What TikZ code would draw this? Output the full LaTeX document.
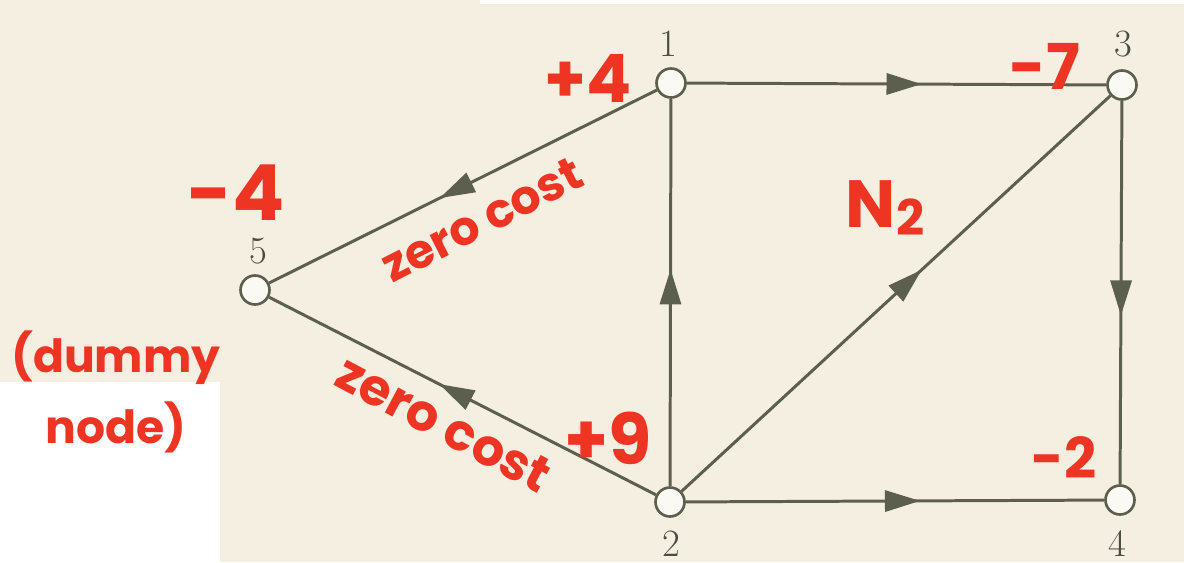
\documentclass[tikz,border=0pt]{standalone}
\usepackage{fontspec}
\newfontfamily\hand{Poppins}
\usepackage{tikz}
\usetikzlibrary{arrows.meta,decorations.markings}
\usepackage{xcolor}
\definecolor{paper}{HTML}{F5EFE2}
\definecolor{inkgray}{HTML}{5C5F4E}
\definecolor{markred}{HTML}{EE3524}

\begin{document}
\begin{tikzpicture}[x=0.02cm, y=-0.02cm,
    vertex/.style={draw=inkgray, circle, fill=white!60!paper, line width=1.5pt,
                   minimum size=0.58cm, inner sep=0pt},
    num/.style={font=\fontsize{22}{26}\selectfont, text=inkgray!80!black, inner sep=0pt},
    edge/.style={draw=inkgray, line width=1.7pt},
    midarr/.style={edge, postaction={decorate}, decoration={markings,
                   mark=at position 0.56 with {\arrow[inkgray]{Triangle[length=20pt,width=12pt]}}}},
    note/.style={text=markred, font=\hand\bfseries, inner sep=0pt, align=center}
]
% page
\fill[paper] (0,0) rectangle (1184,562);
\fill[white] (480,0) rectangle (1184,4);
\fill[white] (0,382) rectangle (220,562);
\useasboundingbox (0,0) rectangle (1184,562);

% network
\node[vertex] (v1) at (671,83) {};
\node[vertex] (v3) at (1122,85) {};
\node[vertex] (v5) at (255,290) {};
\node[vertex] (v2) at (670,502) {};
\node[vertex] (v4) at (1120,500) {};

\node[num] (l1) at (668,44) {1};
\node[num] (l3) at (1123,44) {3};
\node[num] (l5) at (258,251) {5};
\node[num] (l2) at (671,544) {2};
\node[num] (l4) at (1117,544) {4};

\draw[midarr] (v1) -- (v3);
\draw[midarr] (v3) -- (v4);
\draw[midarr] (v2) -- (v4);
\draw[midarr] (v2) -- (v1);
\draw[midarr] (v2) -- (v3);
\draw[midarr] (v1) -- (v5);
\draw[midarr] (v2) -- (v5);

% hand notes
\node[note, font=\hand\bfseries\fontsize{38}{38}\selectfont] (s1) at (588,78) {+4};
\node[note, font=\hand\bfseries\fontsize{36}{36}\selectfont] (s3) at (1045,66) {-7};
\node[note, font=\hand\bfseries\fontsize{44}{44}\selectfont] (s5) at (236,193) {-4};
\node[note, font=\hand\bfseries\fontsize{40}{40}\selectfont] (s2) at (608,438) {+9};
\node[note, font=\hand\bfseries\fontsize{32}{32}\selectfont] (s4) at (1064,458) {-2};
\node[note, font=\hand\bfseries\fontsize{38}{38}\selectfont] (n2) at (885,208)
    {N\raisebox{-0.12em}{\fontsize{28}{28}\selectfont 2}};
\node[note, font=\hand\bfseries\fontsize{27}{27}\selectfont, rotate=27] (z1) at (482,220) {zero cost};
\node[note, font=\hand\bfseries\fontsize{29}{29}\selectfont, rotate=-28] (z2) at (444,424) {zero cost};
\node[note, font=\hand\bfseries\fontsize{26}{40}\selectfont] (dn) at (116,392) {(dummy\\node)};
\end{tikzpicture}
\end{document}
